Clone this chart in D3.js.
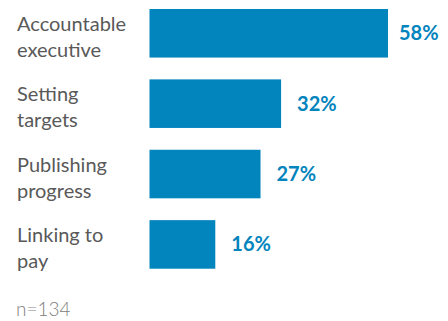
<!DOCTYPE html>
<html>
<head>
<meta charset="utf-8">
<script src="https://cdn.jsdelivr.net/npm/d3@7"></script>
<style>
  body { margin: 0; background: #fff; }
  svg { display: block; }
</style>
</head>
<body>
<script>
const width = 448;
const height = 321;

const categories = ["Accountable executive", "Setting targets", "Publishing progress", "Linking to pay"];
const labelLines = [["Accountable", "executive"], ["Setting", "targets"], ["Publishing", "progress"], ["Linking to", "pay"]];
const values = [58, 32, 27, 16];
const note = "n=134";

const barColor = "#0284bd";
const font = "Lato, 'Open Sans', sans-serif";

const svg = d3
  .select("body")
  .append("svg")
  .attr("width", width)
  .attr("height", height);

const x = d3.scaleLinear().domain([0, 58]).range([149.5, 388]);
const y = d3.scaleBand().domain(categories).range([9, 268.7]).paddingInner(0.31).paddingOuter(0);

// bars
svg
  .append("g")
  .selectAll("rect")
  .data(categories)
  .enter()
  .append("rect")
  .attr("x", x(0))
  .attr("y", (d) => y(d))
  .attr("width", (d, i) => x(values[i]) - x(0))
  .attr("height", y.bandwidth())
  .attr("fill", barColor);

// value labels
svg
  .append("g")
  .selectAll("text")
  .data(categories)
  .enter()
  .append("text")
  .attr("x", (d, i) => x(values[i]) + (i === 0 ? 11 : 16))
  .attr("y", (d) => y(d) + y.bandwidth() / 2)
  .attr("dy", "0.35em")
  .attr("font-family", font)
  .attr("font-weight", "bold")
  .attr("font-size", 20)
  .attr("fill", barColor)
  .text((d, i) => values[i] + "%");

// category labels
const lab = svg
  .append("g")
  .selectAll("text")
  .data(categories)
  .enter()
  .append("text")
  .attr("x", 17)
  .attr("y", (d) => y(d) + y.bandwidth() / 2)
  .attr("font-family", font)
  .attr("font-size", 20)
  .attr("fill", "#595959");

lab
  .selectAll("tspan")
  .data((d, i) => labelLines[i])
  .enter()
  .append("tspan")
  .attr("x", 17)
  .attr("dy", (d, j) => (j === 0 ? -2.5 : 26))
  .text((d) => d);

svg
  .append("text")
  .attr("x", 16)
  .attr("y", 316)
  .attr("font-family", font)
  .attr("font-weight", 300)
  .attr("font-size", 19)
  .attr("fill", "#808080")
  .text(note);
</script>
</body>
</html>
